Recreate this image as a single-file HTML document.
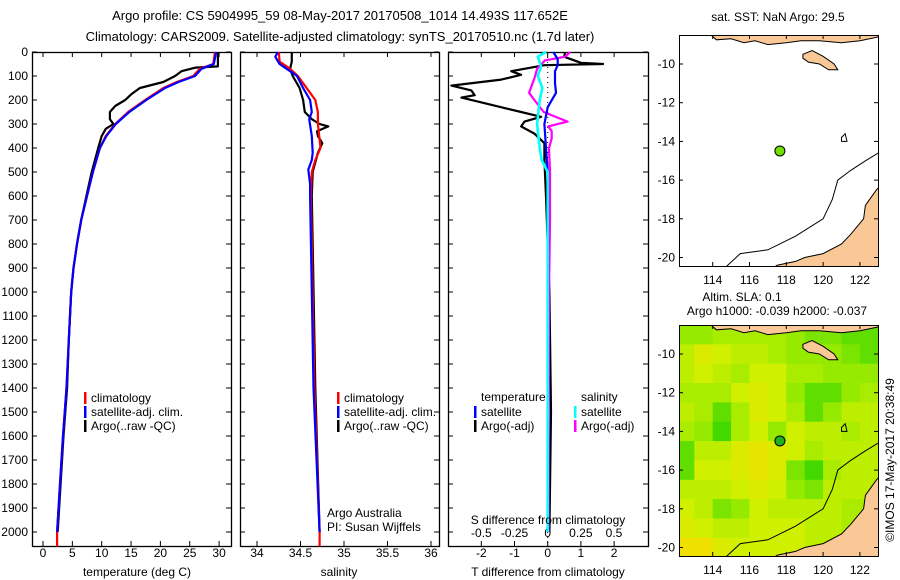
<!DOCTYPE html>
<html><head><meta charset="utf-8"><style>
html,body{margin:0;padding:0;background:#fff;}
svg{display:block;font-family:"Liberation Sans",sans-serif;font-size:12px;}
</style></head><body>
<svg id="fig" width="900" height="580" viewBox="0 0 900 580" xmlns="http://www.w3.org/2000/svg">
<text x="340" y="20" text-anchor="middle" font-size="13">Argo profile: CS 5904995_59 08-May-2017 20170508_1014 14.493S 117.652E</text>
<text x="340" y="41" text-anchor="middle" font-size="13">Climatology: CARS2009. Satellite-adjusted climatology: synTS_20170510.nc (1.7d later)</text>
<g id="g"></g>
</svg>
<script>
// ---------- data ----------
const depthTicks=[0,100,200,300,400,500,600,700,800,900,1000,1100,1200,1300,1400,1500,1600,1700,1800,1900,2000];
const tempTicks=[0,5,10,15,20,25,30];
const salTicks=[34,34.5,35,35.5,36];
const tdiffTicks=[-2,-1,0,1,2];
const sdiffTicks=[-0.5,-0.25,0,0.25,0.5];
const climDepth=[0,50,70,100,125,150,200,250,300,350,400,500,600,700,800,900,1000,1200,1400,1600,1800,2000,2060];
const climTemp=[29.3,29.0,26.7,25.6,22.8,20.5,17.4,14.5,12.3,10.7,9.7,8.5,7.5,6.5,5.8,5.2,4.8,4.4,4.0,3.4,2.9,2.4,2.4];
const satTemp=[29.5,29.1,27.0,25.9,23.1,20.8,17.6,14.7,12.4,10.8,9.7,8.5,7.5,6.5,5.8,5.2,4.8,4.4,4.0,3.4,2.9,2.4];
const argoDepth=[0,60,65,80,100,125,150,175,200,225,250,280,300,320,350,400,500,600,700,800,900,1000,1200,1400,1600,1800,2000];
const argoTemp=[29.8,29.8,26.0,23.6,22.5,20.5,16.5,15.1,14.0,12.3,11.4,11.4,12.0,10.7,10.0,9.4,8.3,7.4,6.5,5.8,5.2,4.8,4.4,4.1,3.5,3.0,2.5];
const climSalDepth=[0,40,70,100,150,200,250,300,400,450,500,600,1400,2000,2060];
const climSal=[34.25,34.26,34.38,34.47,34.57,34.67,34.70,34.70,34.73,34.67,34.63,34.62,34.66,34.72,34.72];
const satSalDepth=[0,20,50,70,100,150,200,250,280,350,420,450,490,550,600,1400,2000];
const satSal=[34.24,34.21,34.26,34.34,34.46,34.53,34.61,34.63,34.60,34.63,34.64,34.63,34.59,34.61,34.61,34.65,34.72];
const argoSalDepth=[0,40,70,100,150,200,250,280,300,310,330,350,380,420,500,600,1400,2000];
const argoSal=[34.40,34.40,34.38,34.41,34.49,34.53,34.55,34.63,34.72,34.82,34.69,34.70,34.75,34.70,34.64,34.63,34.67,34.72];
const tdDepth=[0,20,45,50,55,80,95,115,140,160,180,190,220,250,270,290,310,340,380,450,600,1000,1500,2000];
const tdArgo=[0.52,0.5,1.0,1.67,-0.1,-1.1,-0.8,-1.4,-2.9,-2.3,-2.2,-2.6,-1.7,-0.8,-0.2,-0.7,-0.8,-0.4,-0.1,-0.1,-0.05,0.05,0.1,0.05];
const tsDepth=[0,30,55,80,130,170,230,300,400,500,1000,2000];
const tdSat=[0.17,0.3,0.3,0.22,0.22,0.25,0.0,-0.1,-0.05,0,0,0];
const ssDepth=[0,20,60,100,150,200,300,400,450,500,1000,2000];
const sdSat=[-0.013,-0.075,-0.05,-0.075,-0.04,-0.06,-0.08,-0.06,-0.045,0,0,0];
const smDepth=[0,20,35,70,110,170,200,250,290,310,330,360,400,500,700,1000,2000];
const sdArgo=[0.17,0.13,-0.02,-0.08,-0.1,-0.14,-0.1,-0.03,0.15,0.004,0.03,0.03,0.01,0.017,0.017,0.01,0.005];
const lonTicks=[114,116,118,120,122];
const latTicks=[-10,-12,-14,-16,-18,-20];
const argoLon=117.652, argoLat=-14.493;
const slaLats=[-9,-10,-11,-12,-13,-14,-15,-16,-17,-18,-19,-20];
const slaRows=[
[0.6,0.6,0.5,0.5,0.5,0.5,0.6,0.7,0.7,0.8,0.8],
[0.4,0.2,0.3,0.4,0.4,0.5,0.6,0.6,0.6,0.7,0.8],
[0.4,0.3,0.4,0.5,0.3,0.3,0.5,0.5,0.6,0.6,0.6],
[0.5,0.5,0.5,0.3,0.2,0.3,0.6,0.8,0.8,0.6,0.5],
[0.4,0.5,0.8,0.5,0.2,0.3,0.5,0.8,0.6,0.4,0.4],
[0.5,0.6,0.9,0.5,0.3,0.6,0.3,0.4,0.4,0.5,0.4],
[0.8,0.4,0.4,0.2,0.1,0.2,0.3,0.5,0.4,0.4,0.4],
[0.8,0.3,0.3,0.2,0.1,0.2,0.7,0.9,0.5,0.4,0.4],
[0.4,0.4,0.4,0.3,0.2,0.3,0.6,0.7,0.4,0.4,0.4],
[0.3,0.4,0.7,0.6,0.3,0.4,0.4,0.4,0.4,0.5,0.5],
[0.2,0.3,0.4,0.4,0.3,0.3,0.3,0.4,0.4,0.5,0.5],
[0.0,0.0,0.2,0.3,0.3,0.3,0.3,0.4,0.4,0.5,0.5]];
const slaLons=[112.5,113.5,114.5,115.5,116.5,117.5,118.5,119.5,120.5,121.5,122.5];
const ausCoast=[[123.1,-16.3],[122.9,-16.5],[122.3,-17.3],[122.2,-18],[121.5,-18.8],[121,-19.3],[120,-19.8],[119,-20],[118.5,-20.2],[117.5,-20.4],[117.2,-20.6]];
const shelf=[[114.7,-20.5],[115.5,-19.8],[117,-19.6],[118.5,-18.9],[120,-18],[120.5,-17],[120.8,-16],[121.5,-15.5],[122.3,-15],[123,-14.6]];
const sumba=[[118.9,-9.5],[119.4,-9.3],[120,-9.6],[120.6,-10],[120.8,-10.3],[120.3,-10.3],[119.8,-10],[119.2,-9.9],[118.9,-9.7]];
const topLand=[[113.9,-8.5],[114.2,-8.75],[115,-8.7],[115.7,-8.9],[116.3,-8.8],[117,-9.0],[118,-8.9],[118.8,-8.8],[119.8,-8.8],[121,-8.9],[122,-8.8],[123,-8.6],[123,-8.5]];

// ---------- helpers ----------
const NS='http://www.w3.org/2000/svg';
const G=document.getElementById('g');
function el(tag,attrs,parent,text){const e=document.createElementNS(NS,tag);for(const k in attrs)e.setAttribute(k,attrs[k]);if(text!==undefined)e.textContent=text;(parent||G).appendChild(e);return e;}
const Y0=52, DS=0.24;
const yD=d=>Y0+d*DS;
const xT=t=>43+t*5.87;
const xS=s=>257+(s-34)*87;
const xTD=t=>547.7+t*33.2;
const xSD=s=>547.7+s*132.6;
const PB=546;

function frame(x1,x2,name){
  const r=el('rect',{x:x1+0.5,y:Y0+0.5,width:x2-x1,height:PB-Y0,fill:'none',stroke:'#000','stroke-width':1.3});
  
  
  depthTicks.forEach(d=>{
    el('line',{x1:x1,x2:x1+5,y1:yD(d),y2:yD(d),stroke:'#000'});
    el('line',{x1:x2-5,x2:x2,y1:yD(d),y2:yD(d),stroke:'#000'});
  });
}
function xticks(vals,fx,name,labelY,top){
  vals.forEach(v=>{
    const x=fx(v);
    el('line',{x1:x,x2:x,y1:PB-5,y2:PB,stroke:'#000'});
    if(top) el('line',{x1:x,x2:x,y1:Y0,y2:Y0+5,stroke:'#000'});
    const t=el('text',{x:x,y:labelY,'text-anchor':'middle'},G,String(v));
    
    
  });
}
function line(depths,vals,fx,color,name,w){
  const pts=vals.map((v,i)=>fx(v).toFixed(1)+','+yD(depths[i]).toFixed(1)).join(' ');
  const p=el('polyline',{points:pts,fill:'none',stroke:color,'stroke-width':w||2.2,'stroke-linejoin':'round'});
  
  
}
function legend(x,y,color,label,name){
  el('rect',{x:x,y:y-10,width:2.5,height:12,fill:color});
  const t=el('text',{x:x+7,y:y},G,label);
  
  
}

// ---------- panel 1 temperature ----------
frame(32,231,'temperature-panel');
depthTicks.forEach(d=>{
  const t=el('text',{x:28,y:yD(d)+4,'text-anchor':'end'},G,String(d));
  
  
});
xticks(tempTicks,xT,'temperature-tick-label',557,true);
line(argoDepth,argoTemp,xT,'#000','argo-temperature-line');
line(climDepth,climTemp,xT,'#f00','climatology-temperature-line');
line(climDepth.slice(0,satTemp.length),satTemp,xT,'#00f','satellite-temperature-line');
let at=el('text',{x:137,y:576,'text-anchor':'middle'},G,'temperature (deg C)');


legend(84,402,'#f00','climatology','legend-climatology');
legend(84,416,'#00f','satellite-adj. clim.','legend-satellite');
legend(84,430,'#000','Argo(..raw -QC)','legend-argo');

// ---------- panel 2 salinity ----------
frame(240,439,'salinity-panel');
xticks(salTicks,xS,'salinity-tick-label',557,true);
line(argoSalDepth,argoSal,xS,'#000','argo-salinity-line');
line(climSalDepth,climSal,xS,'#f00','climatology-salinity-line');
line(satSalDepth,satSal,xS,'#00f','satellite-salinity-line');
at=el('text',{x:339,y:576,'text-anchor':'middle'},G,'salinity');


legend(337,402,'#f00','climatology','legend-climatology-2');
legend(337,416,'#00f','satellite-adj. clim.','legend-satellite-2');
legend(337,430,'#000','Argo(..raw -QC)','legend-argo-2');
at=el('text',{x:327,y:517},G,'Argo Australia');


at=el('text',{x:327,y:531},G,'PI: Susan Wijffels');



// ---------- panel 3 differences ----------
frame(448,648,'difference-panel');
el('line',{x1:xTD(0),x2:xTD(0),y1:Y0,y2:PB,stroke:'#000','stroke-dasharray':'1,4'});
xticks(tdiffTicks,xTD,'t-diff-tick-label',557,true);
sdiffTicks.forEach(v=>{
  const t=el('text',{x:xSD(v),y:537,'text-anchor':'middle'},G,String(v));
  
  
});
line(tdDepth,tdArgo,xTD,'#000','argo-temperature-diff-line');
line(smDepth,sdArgo,xSD,'#f0f','argo-salinity-diff-line');
line(tsDepth,tdSat,xTD,'#00f','satellite-temperature-diff-line');
line(ssDepth,sdSat,xSD,'#0ff','satellite-salinity-diff-line',2.6);
at=el('text',{x:548,y:524,'text-anchor':'middle'},G,'S difference from climatology');


at=el('text',{x:548,y:576,'text-anchor':'middle'},G,'T difference from climatology');


at=el('text',{x:481,y:401},G,'temperature');


at=el('text',{x:581,y:401},G,'salinity');


legend(474,416,'#00f','satellite','legend-t-satellite');
legend(474,430,'#000','Argo(-adj)','legend-t-argo');
legend(574,416,'#0ff','satellite','legend-s-satellite');
legend(574,430,'#f0f','Argo(-adj)','legend-s-argo');

// ---------- maps ----------
function map(top,name,sla){
  const X1=679,X2=878,Y1=top,Y2=top+231;
  const mx=lon=>712.7+(lon-114)*18.4;
  const my=lat=>Y1+29+(-10-lat)*19.35;
  const cid='clip'+top;
  const cp=el('clipPath',{id:cid});el('rect',{x:X1,y:Y1,width:X2-X1,height:Y2-Y1},cp);
  const g=el('g',{'clip-path':'url(#'+cid+')'});
  
  
  if(sla){
    const col=v=>{const stops=[[0,[240,224,0]],[0.3,[208,240,0]],[0.6,[150,234,0]],[1,[40,210,0]]];
      for(let i=1;i<stops.length;i++){if(v<=stops[i][0]){const a=stops[i-1],b=stops[i],f=(v-a[0])/(b[0]-a[0]);return 'rgb('+a[1].map((c,k)=>Math.round(c+(b[1][k]-c)*f)).join(',')+')';}}return 'rgb(40,210,0)';};
    slaRows.forEach((row,ri)=>row.forEach((v,ci)=>{
      const r=el('rect',{x:mx(slaLons[ci]-0.5),y:my(slaLats[ri]+0.5),width:18.9,height:19.9,fill:col(v)},g);
      
      
    }));
  }
  const poly=(pts,fill,stroke,nm,close)=>{const p=el(close?'polygon':'polyline',{points:pts.map(p=>mx(p[0]).toFixed(1)+','+my(p[1]).toFixed(1)).join(' '),fill:fill,stroke:stroke,'stroke-width':1},g);
    };
  poly(ausCoast.concat([[123.1,-21]]),'#fac896','#000','australia-land',true);
  poly(topLand.concat([[113.9,-8]]),'#fac896','#000','indonesia-land',true);
  poly(sumba,'#fac896','#000','sumba-island',true);
  poly([[121,-13.8],[121.2,-13.6],[121.3,-14],[121,-14]],'none','#000','reef-outline',true);
  poly(shelf,'none','#000','shelf-contour',false);
  const c=el('circle',{cx:mx(argoLon),cy:my(argoLat),r:5,fill:sla?'#20b020':'#70e000',stroke:'#000','stroke-width':1});
  
  
  const f=el('rect',{x:X1+0.5,y:Y1+0.5,width:X2-X1,height:Y2-Y1,fill:'none',stroke:'#000'});
  
  
  lonTicks.forEach(l=>{const x=mx(l);
    el('line',{x1:x,x2:x,y1:Y2-4,y2:Y2,stroke:'#000'});el('line',{x1:x,x2:x,y1:Y1,y2:Y1+4,stroke:'#000'});
    const t=el('text',{x:x,y:Y2+18,'text-anchor':'middle'},G,String(l));
    
    });
  latTicks.forEach(l=>{const y=my(l);
    el('line',{x1:X1,x2:X1+4,y1:y,y2:y,stroke:'#000'});el('line',{x1:X2-4,x2:X2,y1:y,y2:y,stroke:'#000'});
    const t=el('text',{x:675,y:y+4,'text-anchor':'end'},G,String(l));
    
    });
}
map(35,'sst-map',false);
map(325,'sla-map',true);
at=el('text',{x:778,y:21,'text-anchor':'middle'},G,'sat. SST: NaN Argo: 29.5');


at=el('text',{x:742,y:301,'text-anchor':'middle'},G,'Altim. SLA: 0.1');


at=el('text',{x:777,y:315,'text-anchor':'middle'},G,'Argo h1000: -0.039 h2000: -0.037');


at=el('text',{x:0,y:0,'text-anchor':'middle',transform:'translate(894,460) rotate(-90)'},G,'©IMOS 17-May-2017 20:38:49');


</script>
</body></html>
